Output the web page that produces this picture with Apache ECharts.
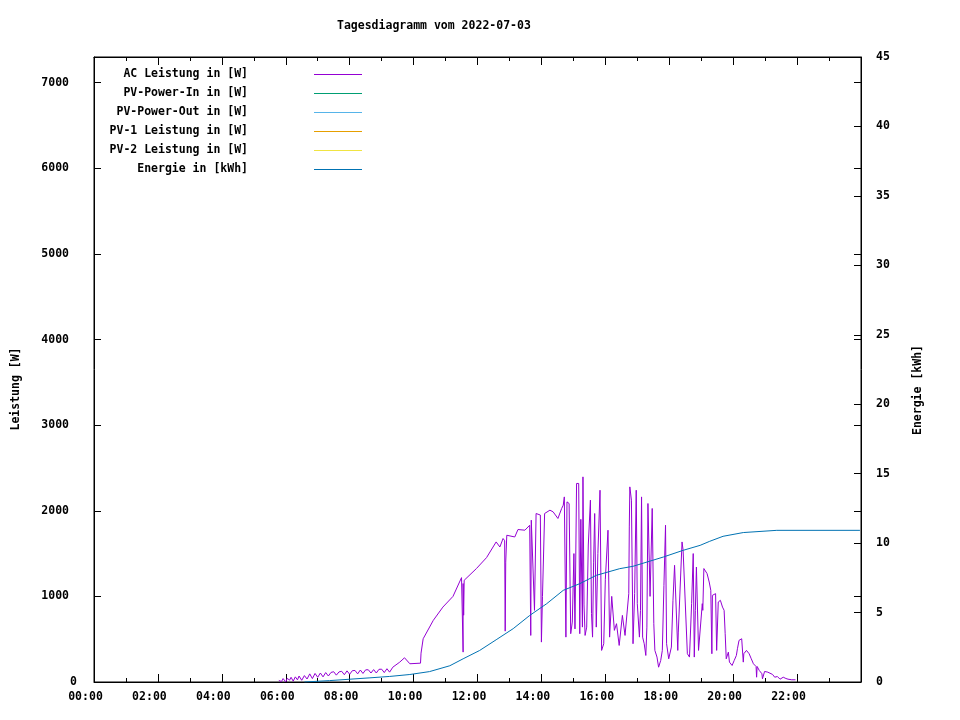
<!DOCTYPE html>
<html>
<head>
<meta charset="utf-8">
<script src="https://cdn.jsdelivr.net/npm/echarts@6/dist/echarts.min.js"></script>
<style>html,body{margin:0;padding:0;background:#fff}#c{width:960px;height:720px}</style>
</head>
<body>
<div id="c"></div>
<script>
var chartTitle = 'Tagesdiagramm vom 2022-07-03';
var seriesNames = ['AC Leistung in [W]', 'PV-Power-In in [W]', 'PV-Power-Out in [W]', 'PV-1 Leistung in [W]', 'PV-2 Leistung in [W]', 'Energie in [kWh]'];
var seriesColors = ['#9400D3', '#009E73', '#56B4E9', '#E69F00', '#F0E442', '#0072B2'];

var acTime = ["05:47","05:52","05:55","06:00","06:03","06:07","06:10","06:14","06:18","06:22","06:25","06:30","06:35","06:40","06:45","06:50","06:55","07:00","07:05","07:10","07:15","07:20","07:25","07:30","07:35","07:40","07:45","07:50","07:55","08:00","08:05","08:10","08:15","08:20","08:25","08:30","08:35","08:40","08:45","08:50","08:55","09:00","09:05","09:10","09:15","09:21","09:34","09:43","09:53","10:13","10:14","10:18","10:37","10:55","11:14","11:30","11:32","11:33","11:33","11:34","11:35","11:58","12:17","12:35","12:42","12:48","12:51","12:52","12:53","12:55","13:10","13:16","13:29","13:38","13:40","13:41","13:44","13:47","13:50","13:58","14:00","14:02","14:06","14:16","14:22","14:31","14:34","14:38","14:41","14:43","14:46","14:48","14:52","14:55","14:58","15:01","15:03","15:06","15:10","15:12","15:14","15:17","15:18","15:20","15:22","15:25","15:28","15:32","15:34","15:36","15:38","15:40","15:43","15:46","15:50","15:53","15:57","16:00","16:05","16:08","16:12","16:17","16:21","16:26","16:32","16:37","16:40","16:44","16:45","16:46","16:49","16:52","16:55","16:58","17:00","17:04","17:06","17:08","17:10","17:13","17:16","17:18","17:20","17:24","17:28","17:31","17:33","17:37","17:40","17:44","17:47","17:50","17:53","17:55","17:59","18:04","18:07","18:10","18:16","18:17","18:24","18:26","18:29","18:34","18:38","18:42","18:45","18:47","18:49","18:51","18:55","18:58","19:02","19:03","19:05","19:07","19:11","19:15","19:18","19:20","19:21","19:27","19:29","19:32","19:36","19:40","19:43","19:45","19:47","19:51","19:53","19:58","20:02","20:06","20:08","20:11","20:14","20:16","20:19","20:20","20:25","20:30","20:34","20:38","20:43","20:44","20:45","20:49","20:54","20:55","20:59","21:05","21:14","21:18","21:23","21:28","21:34","21:39","21:43","21:50","21:52","21:57"];
var acWatt = [18,5,40,0,45,20,55,10,60,25,70,20,75,35,95,40,100,55,105,60,110,70,112,120,80,118,125,85,130,90,132,135,95,140,100,142,143,105,145,105,148,150,110,155,115,173,232,283,213,220,337,505,720,875,1000,1219,1210,349,1150,780,1188,1325,1453,1636,1577,1676,1650,594,1400,1714,1694,1781,1773,1831,544,1890,1910,837,1968,1950,466,1000,1968,2007,1987,1910,1890,2027,2065,2162,524,2104,2085,564,700,1500,620,2319,2319,564,1900,641,2396,900,544,641,1600,2124,800,524,1400,1968,641,1500,2240,369,447,1200,1773,524,1000,603,681,427,778,544,564,1032,1811,2279,2124,447,1032,2240,915,524,837,2162,524,447,310,641,2085,1000,2027,681,369,291,173,252,369,1129,1831,447,271,408,954,1363,369,583,1636,1539,1519,330,291,915,1500,291,837,1343,369,349,915,837,1325,1343,1266,1168,1071,330,1012,1032,369,934,954,875,837,564,271,349,232,193,252,310,388,486,505,505,232,330,369,330,271,213,181,56,181,135,96,37,123,115,88,56,64,33,56,41,33,26,49,26];

var energyTime = ["06:35","07:22","08:00","08:38","09:15","09:53","10:30","11:08","11:33","12:04","12:35","13:07","13:38","14:10","14:41","15:12","15:43","16:27","16:52","17:49","18:26","18:58","19:16","19:41","20:19","21:22","23:58"];
var energyKWh = [0.0,0.1,0.2,0.3,0.4,0.54,0.75,1.17,1.67,2.27,3.04,3.84,4.79,5.64,6.6,7.08,7.68,8.16,8.33,9.0,9.48,9.84,10.13,10.49,10.76,10.92,10.92];

var xTickMinutes = 120;
var leftMax = 7300;
var leftTicks = [0, 1000, 2000, 3000, 4000, 5000, 6000, 7000];
var rightMax = 45, rightInterval = 5;

function toMin(t) { var p = t.split(':'); return (+p[0]) * 60 + (+p[1]); }
function pad(n) { return (n < 10 ? '0' : '') + n; }
function pairs(ts, vs) { return ts.map(function (t, i) { return [toMin(t), vs[i]]; }); }

var FONT = 'DejaVu Sans Mono';
var FS = 11.5;
var txt = { fontFamily: FONT, fontSize: FS, fontWeight: 'bold', color: '#000' };

var chart = echarts.init(document.getElementById('c'), null, { renderer: 'canvas' });

function xAxisDef(grid, pos, labels) {
  return {
    type: 'value', gridIndex: grid, position: pos, min: 0, max: 1440, interval: xTickMinutes,
    axisLine: { show: true, onZero: false, lineStyle: { color: '#000', width: 1 } },
    axisTick: { show: true, inside: true, length: 8, lineStyle: { color: '#000' } },
    minorTick: { show: true, splitNumber: 2, length: 4, lineStyle: { color: '#000' } },
    splitLine: { show: false }, minorSplitLine: { show: false },
    axisLabel: labels ? Object.assign({}, txt, {
      margin: 9, padding: [0, 17, 0, 0],
      formatter: function (v) { if (v % xTickMinutes !== 0 || v >= 1440) return ''; return pad(Math.floor(v / 60)) + ':' + pad(v % 60); }
    }) : { show: false }
  };
}

var series = [];
seriesNames.forEach(function (n, i) {
  var d = [];
  var yi = 0;
  if (i === 0) d = pairs(acTime, acWatt);
  if (i === 5) { d = pairs(energyTime, energyKWh); yi = 1; }
  series.push({
    name: n, type: 'line', data: d, xAxisIndex: 0, yAxisIndex: yi,
    showSymbol: false, symbol: 'none', smooth: false,
    lineStyle: { color: seriesColors[i], width: 1 },
    itemStyle: { color: seriesColors[i] },
    z: i === 5 ? 3 : 2
  });
});

var gridRect = { left: 94, top: 57, right: 99, bottom: 38 };

chart.setOption({
  animation: false,
  backgroundColor: '#fff',
  grid: [
    Object.assign({ show: true, borderColor: '#000', borderWidth: 1, backgroundColor: 'transparent', containLabel: false }, gridRect),
    Object.assign({ show: false, containLabel: false }, gridRect)
  ],
  title: {
    text: chartTitle, left: 337, top: 20, padding: 0,
    textStyle: { fontFamily: FONT, fontSize: FS, fontWeight: 'bold', color: '#000' }
  },
  legend: {
    orient: 'vertical', align: 'right', right: 598, top: 65.5, padding: 0,
    itemWidth: 48, itemHeight: 1, itemGap: 1, selectedMode: false, icon: 'rect',
    data: seriesNames,
    textStyle: { fontFamily: FONT, fontSize: FS, fontWeight: 'bold', color: '#000', padding: [0, 61, 4, 0], lineHeight: 14 }
  },
  xAxis: [
    xAxisDef(0, 'bottom', true),
    xAxisDef(1, 'top', false)
  ],
  yAxis: [
    {
      type: 'value', gridIndex: 0, position: 'left', min: 0, max: leftMax,
      axisLine: { show: true, onZero: false, lineStyle: { color: '#000' } },
      axisTick: { show: true, inside: true, length: 7, customValues: leftTicks, lineStyle: { color: '#000' } },
      splitLine: { show: false },
      axisLabel: Object.assign({}, txt, {
        margin: 17, customValues: leftTicks,
        formatter: function (v) { return v === 0 ? '0' : '{n|' + v + '}'; },
        rich: { n: { fontFamily: FONT, fontSize: FS, fontWeight: 'bold', color: '#000', padding: [0, 8, 0, 0] } }
      })
    },
    {
      type: 'value', gridIndex: 0, position: 'right', min: 0, max: rightMax, interval: rightInterval,
      axisLine: { show: true, onZero: false, lineStyle: { color: '#000' } },
      axisTick: { show: true, inside: true, length: 7, lineStyle: { color: '#000' } },
      splitLine: { show: false },
      axisLabel: Object.assign({}, txt, { margin: 15 })
    },
    {
      type: 'value', gridIndex: 1, position: 'right', min: 0, max: leftMax,
      axisLine: { show: false, onZero: false },
      axisTick: { show: true, inside: true, length: 7, customValues: leftTicks, lineStyle: { color: '#000' } },
      splitLine: { show: false },
      axisLabel: { show: false }
    }
  ],
  graphic: [
    { type: 'text', x: 16, y: 389, rotation: Math.PI / 2,
      style: { text: 'Leistung [W]', align: 'center', verticalAlign: 'middle', fill: '#000', font: 'bold ' + FS + 'px "' + FONT + '"' } },
    { type: 'text', x: 918, y: 390, rotation: Math.PI / 2,
      style: { text: 'Energie [kWh]', align: 'center', verticalAlign: 'middle', fill: '#000', font: 'bold ' + FS + 'px "' + FONT + '"' } }
  ],
  series: series
});
</script>
</body>
</html>
